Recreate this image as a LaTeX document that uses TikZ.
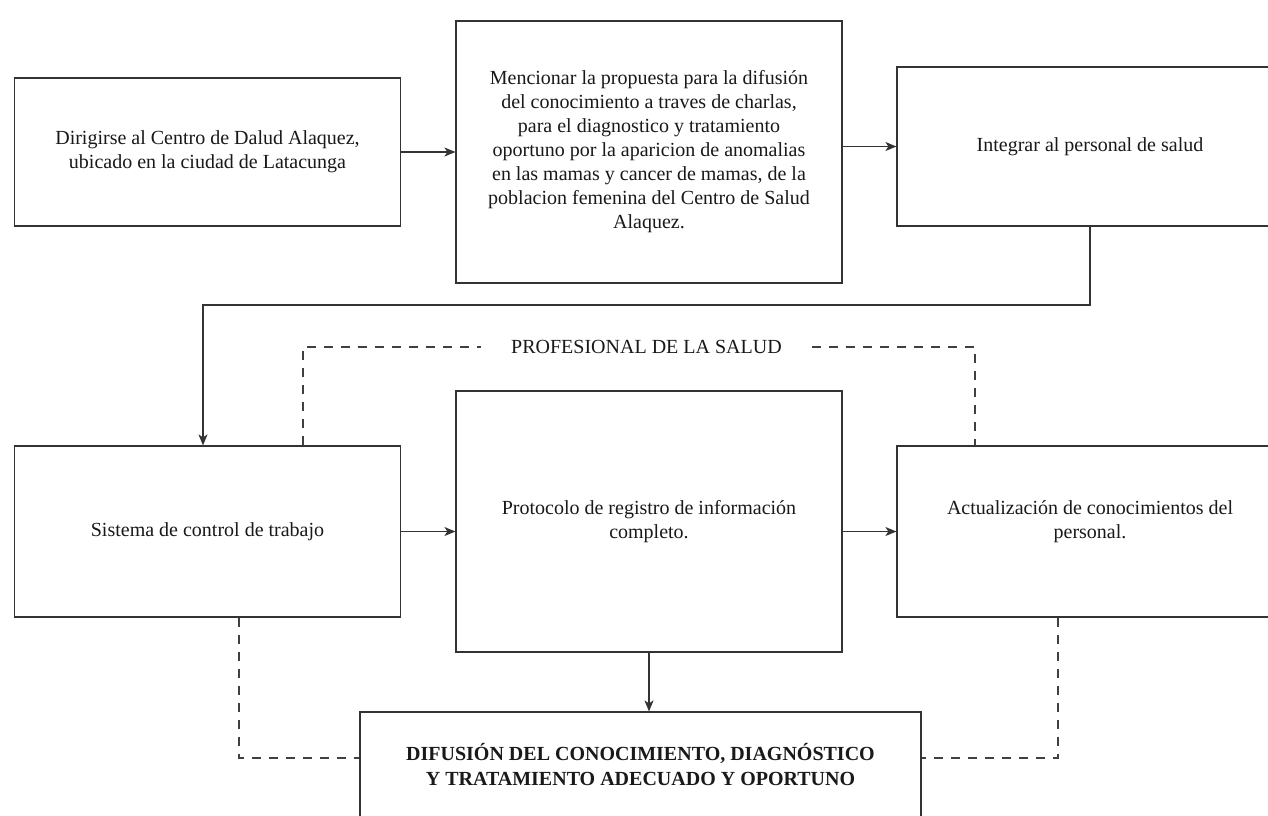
\documentclass[tikz,border=0pt]{standalone}
\usepackage{fontspec}
\setmainfont{Liberation Serif}
\usetikzlibrary{arrows.meta}
\begin{document}
\begin{tikzpicture}[x=1pt, y=-1pt, >={Stealth[length=11pt,width=9pt,inset=3pt]},
  box/.style={draw=black!80, line width=1.2pt, minimum width=386pt, align=center,
    inner sep=0pt, font=\fontsize{20}{24}\selectfont, text=black!90},
  arr/.style={->, draw=black!80, line width=1.2pt},
  dashline/.style={draw=black!75, line width=1.1pt, dash pattern=on 9pt off 8pt}]
  \useasboundingbox[fill=white] (0,0) rectangle (1268,815);
  % top row
  \node[box, minimum height=148pt] (centro) at (207.5,152)
    {Dirigirse al Centro de Dalud Alaquez,\\ubicado en la ciudad de Latacunga};
  \node[box, minimum height=262pt] (propuesta) at (649,152)
    {Mencionar la propuesta para la difusión\\del conocimiento a traves de charlas,\\para el diagnostico y tratamiento\\oportuno por la aparicion de anomalias\\en las mamas y cancer de mamas, de la\\poblacion femenina del Centro de Salud\\Alaquez.};
  \node[box, minimum height=159pt] (integrar) at (1090,146.5) {Integrar al personal de salud};
  % middle row
  \node[box, minimum height=171pt] (sistema) at (207.5,531.5) {Sistema de control de trabajo};
  \node[box, minimum height=261pt] (protocolo) at (649,521.5)
    {Protocolo de registro de información\\completo.};
  \node[box, minimum height=171pt] (actual) at (1090,531.5)
    {Actualización de conocimientos del\\personal.\\};
  % bottom
  \node[box, minimum width=561pt, minimum height=106pt, font=\fontsize{20}{25}\selectfont\bfseries]
    (difusion) at (640.5,765)
    {DIFUSIÓN DEL CONOCIMIENTO, DIAGNÓSTICO\\Y TRATAMIENTO ADECUADO Y OPORTUNO};
  \node[font=\fontsize{20}{24}\selectfont, text=black!90, inner xsep=30pt] (prof) at (646.5,347)
    {PROFESIONAL DE LA SALUD};

  \coordinate (bend) at (203,305);
  \coordinate (tl) at (303,347);
  \coordinate (tr) at (975,347);
  \coordinate (dl) at (239,758);
  \coordinate (dr) at (1058,758);

  \draw[arr] (centro.east) -- (propuesta.west);
  \draw[arr] (propuesta.east |- integrar) -- (integrar.west);
  \draw[arr] (integrar.south) |- (bend) -- (bend |- sistema.north);
  \draw[arr] (sistema.east) -- (protocolo.west |- sistema);
  \draw[arr] (protocolo.east |- actual) -- (actual.west);
  \draw[arr] (protocolo.south) -- (protocolo.south |- difusion.north);

  \draw[dashline] (tl |- sistema.north) |- (prof.west);
  \draw[dashline] (prof.east) -| (tr |- actual.north);
  \draw[dashline] (dl |- sistema.south) |- (difusion.west |- dl);
  \draw[dashline] (dr |- actual.south) |- (difusion.east |- dr);
\end{tikzpicture}
\end{document}
